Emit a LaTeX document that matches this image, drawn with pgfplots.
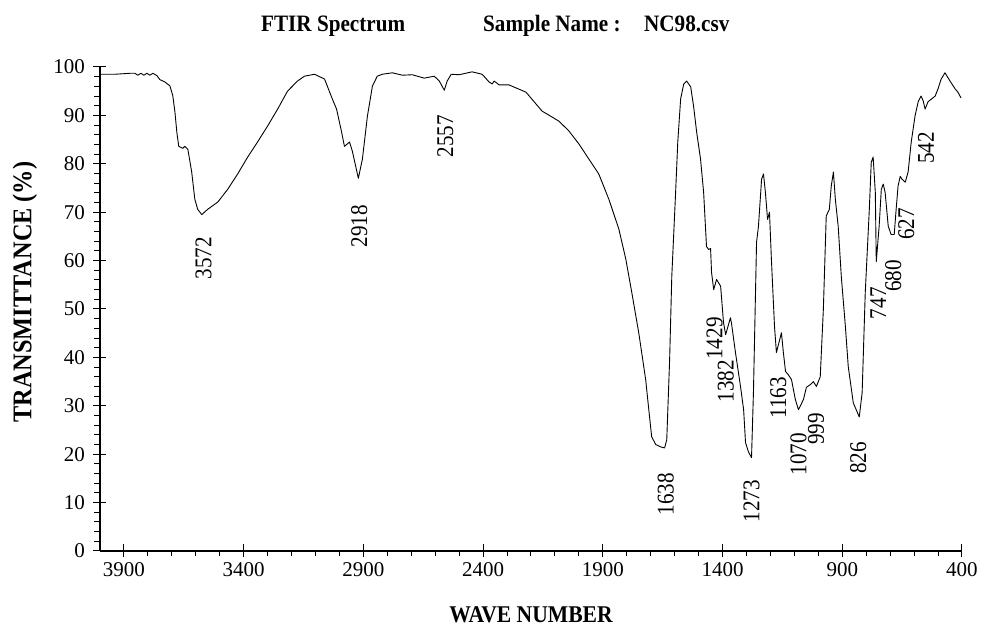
\documentclass[border=0pt]{standalone}
\usepackage{pgfplots}
\pgfplotsset{compat=1.18}
\usepackage{pgfplotstable}
\usepackage{fontspec}
\setmainfont{Liberation Serif}
\newfontfamily\cond[FakeStretch=0.88]{Liberation Serif}
\newfontfamily\condb[FakeStretch=0.9]{Liberation Serif}

\pgfplotstableread{
w T
4000 98.5
3937 98.5
3875 98.7
3854 98.7
3842 98.3
3829 98.7
3817 98.3
3804 98.7
3792 98.3
3779 98.7
3762 98.2
3750 97.4
3729 96.9
3708 96.1
3696 94.1
3687 90.7
3679 86.5
3671 83.6
3654 83.2
3646 83.6
3633 83.0
3617 78.3
3604 72.7
3592 70.6
3575 69.5
3550 70.6
3508 72.1
3467 74.7
3425 77.9
3383 81.4
3342 84.5
3300 87.8
3258 91.3
3217 95.0
3175 97.1
3146 98.1
3104 98.5
3062 97.5
3033 93.8
3012 91.3
2992 86.8
2979 83.6
2958 84.5
2946 82.6
2921 77.0
2904 81.0
2883 89.9
2862 96.1
2842 98.1
2821 98.5
2779 98.8
2737 98.3
2696 98.4
2646 97.7
2604 98.1
2583 97.1
2562 95.2
2550 97.1
2533 98.5
2500 98.4
2446 99.0
2404 98.5
2375 96.9
2362 96.5
2354 97.1
2333 96.3
2292 96.3
2221 94.8
2154 90.9
2083 88.8
2042 86.8
2000 84.1
1917 77.9
1875 72.7
1833 66.5
1804 60.3
1779 53.4
1750 45.1
1721 35.4
1708 29.2
1696 23.6
1679 22.0
1658 21.5
1642 21.3
1633 23.0
1621 39.5
1612 56.7
1596 74.1
1587 84.5
1575 93.4
1562 96.5
1550 97.1
1533 95.9
1521 91.9
1508 86.5
1492 81.0
1479 74.1
1467 62.9
1458 62.3
1450 62.5
1446 57.6
1437 54.0
1425 56.1
1408 54.7
1396 47.2
1387 44.7
1367 48.2
1362 46.8
1346 41.0
1325 34.0
1312 29.2
1304 22.4
1292 20.5
1279 19.3
1271 32.7
1258 63.8
1250 67.1
1237 76.8
1229 77.9
1221 74.1
1212 68.5
1204 70.0
1196 60.3
1183 46.4
1175 41.0
1154 45.1
1146 41.0
1137 37.1
1125 36.4
1112 35.4
1096 31.3
1083 29.2
1062 31.3
1050 33.8
1033 34.4
1021 35.0
1008 34.0
992 36.0
979 49.9
967 69.2
954 70.6
946 75.4
937 78.3
929 72.7
917 67.1
904 56.7
887 46.4
875 38.1
854 30.6
829 27.7
817 32.7
804 53.4
787 70.6
779 80.3
771 81.4
762 74.1
758 59.8
746 67.1
737 74.7
729 75.8
721 74.1
708 67.1
696 65.4
683 65.4
675 70.6
667 75.4
658 77.4
650 76.8
637 76.2
625 78.3
612 84.5
596 89.9
583 92.8
571 94.0
562 93.0
554 91.3
542 92.8
512 94.0
500 95.5
487 97.5
471 98.8
450 97.1
429 95.5
417 94.8
404 93.6
}\spec

\begin{document}
\begin{tikzpicture}
\begin{axis}[
  at={(100pt,78pt)}, anchor=south west,
  scale only axis, width=862pt, height=484pt,
  x dir=reverse, xmin=400, xmax=4000, ymin=0, ymax=100,
  axis lines*=left,
  axis line style={line width=1.1pt, black},
  xtick={400,900,...,3900}, ytick={0,10,...,100},
  minor x tick num=4, minor y tick num=4,
  tick align=outside, major tick length=6.5pt, minor tick length=5.5pt,
  tick style={line width=1pt, black},
  extra x ticks={400,900,...,3900}, extra x tick labels={},
  extra x tick style={tick align=inside, minor x tick num=0},
  extra y ticks={0,10,...,100}, extra y tick labels={},
  extra y tick style={tick align=inside, minor y tick num=0},
  /pgf/number format/assume math mode=true,
  /pgf/number format/1000 sep={},
  tick label style={font=\fontsize{21}{25}\selectfont},
  xticklabel style={yshift=-2pt},
  yticklabel style={xshift=-5pt},
  clip=false,
]
\addplot[black, line width=0.9pt, line join=round] table[x=w,y=T]{\spec};
\begin{scope}[every node/.style={rotate=90, anchor=east, inner sep=0pt, font=\cond\fontsize{24}{28}\selectfont}]
\node at (axis cs:3567,64.9) {3572};
\node at (axis cs:2917,71.5) {2918};
\node at (axis cs:2558,90.1) {2557};
\node at (axis cs:1637,16.1) {1638};
\node at (axis cs:1433,48.3) {1429};
\node at (axis cs:1387,39.5) {1382};
\node at (axis cs:1279,14.7) {1273};
\node at (axis cs:1167,36.0) {1163};
\node at (axis cs:1083,24.4) {1070};
\node at (axis cs:1010,28.5) {999};
\node at (axis cs:833,22.5) {826};
\node at (axis cs:750,54.5) {747};
\node at (axis cs:687,60.1) {680};
\node at (axis cs:633,70.9) {627};
\node at (axis cs:550,86.6) {542};
\end{scope}
\end{axis}
\begin{scope}[every node/.style={inner sep=0pt}]
\node[anchor=base west, font=\condb\bfseries\fontsize{23.5}{28}\selectfont] at (261pt,597pt) {FTIR Spectrum};
\node[anchor=base west, font=\condb\bfseries\fontsize{23.5}{28}\selectfont] at (483pt,597pt) {Sample Name :};
\node[anchor=base west, font=\condb\bfseries\fontsize{23.5}{28}\selectfont] at (644pt,597pt) {NC98.csv};
\node[anchor=base, font=\condb\bfseries\fontsize{24}{28}\selectfont] at (531pt,6pt) {WAVE NUMBER};
\node[rotate=90, anchor=center, font=\condb\bfseries\fontsize{27}{32}\selectfont] at (25pt,337pt) {TRANSMITTANCE (\%)};
\end{scope}
\pgfresetboundingbox
\path[use as bounding box] (0,0) rectangle (983pt,629pt);
\end{tikzpicture}
\end{document}
